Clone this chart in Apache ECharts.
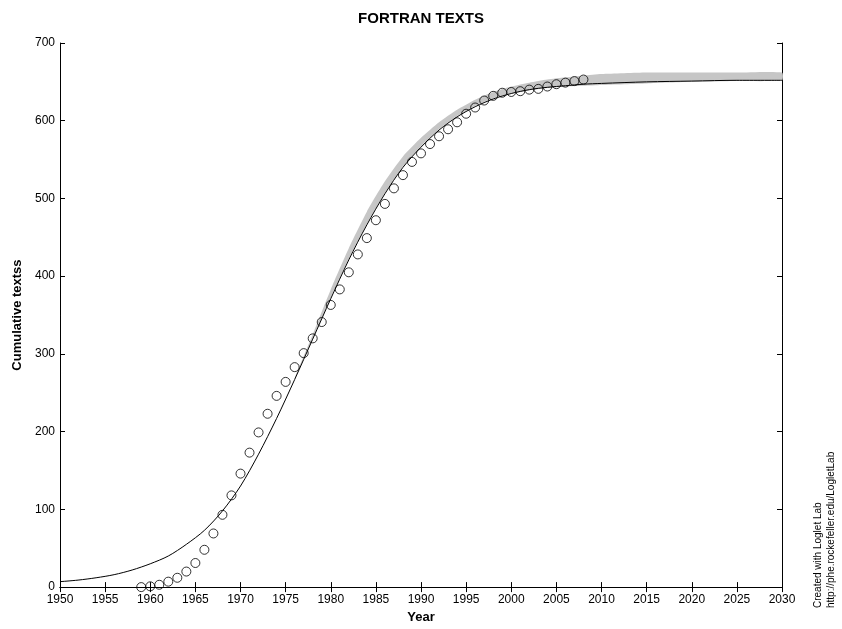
<!DOCTYPE html>
<html>
<head>
<meta charset="utf-8">
<script src="https://cdn.jsdelivr.net/npm/echarts@6/dist/echarts.min.js"></script>
<style>
html,body{margin:0;padding:0;background:#fff;}
#chart{width:842px;height:629px;}
</style>
</head>
<body>
<div id="chart"></div>
<script>
// Observed cumulative FORTRAN texts (circles)
const obsYears = [1959,1960,1961,1962,1963,1964,1965,1966,1967,1968,1969,1970,1971,1972,1973,1974,1975,1976,1977,1978,1979,1980,1981,1982,1983,1984,1985,1986,1987,1988,1989,1990,1991,1992,1993,1994,1995,1996,1997,1998,1999,2000,2001,2002,2003,2004,2005,2006,2007,2008];
const obsValues = [0,1,3,7,12,20,31,48,69,93,118,146,173,199,223,246,264,283,301,320,341,363,383,405,428,449,472,493,513,530,547,558,570,580,589,598,609,617,626,632,636,637,638,640,641,644,647,649,651,653];

// Fitted curve
const fitYears = [1950,1952,1954,1956,1958,1960,1962,1964,1966,1968,1970,1972,1974,1976,1978,1980,1982,1984,1986,1988,1990,1992,1994,1996,1998,2000,2002,2004,2006,2008,2010,2015,2020,2025,2030];
const fitValues = [7,9,12,16,22,30,40,55,73,98,130,171,217,267,319,371,421,466,506,540,566,588,605,618,628,635,640,643,645,647,648,650,651,652,652];

// Confidence band
const bandYears = [1976,1978,1980,1982,1984,1986,1988,1990,1992,1994,1996,1998,2000,2002,2004,2006,2008,2010,2015,2020,2025,2030];
const bandLower = [267,319,372,422,467,507,541,567,589,606,619,629,635,639,642,644,645,646,648,650,651,652];
const bandUpper = [269,325,383,436,483,522,554,578,598,614,627,637,644,649,653,656,658,660,662,662,662,662];

const xTicksMin = 1950, xTicksMax = 2030, xStep = 5;
const yTicksMin = 0, yTicksMax = 700, yStep = 100;

const FONT = '"Liberation Sans", Arial, Helvetica, sans-serif';
const chart = echarts.init(document.getElementById('chart'), null, {renderer:'canvas'});

const axisCommon = {
  axisLine:{show:true, lineStyle:{color:'#000', width:1}},
  axisTick:{show:true, inside:true, length:5, lineStyle:{color:'#000', width:1}},
  splitLine:{show:false}
};

const option = {
  backgroundColor:'#fff',
  animation:false,
  title:{
    text:'FORTRAN TEXTS', left:'center', top:6,
    textStyle:{fontFamily:FONT, fontSize:15, fontWeight:'bold', color:'#000'}
  },
  grid:{left:60, right:60, top:43, bottom:37, containLabel:false},
  xAxis:[
    Object.assign({}, axisCommon, {
      type:'value', min:xTicksMin, max:xTicksMax, interval:xStep, position:'bottom',
      name:'Year', nameLocation:'middle', nameGap:15,
      nameTextStyle:{fontFamily:FONT, fontSize:13, fontWeight:'bold', color:'#000'},
      axisLabel:{show:true, margin:7, color:'#000', fontFamily:FONT, fontSize:12, formatter:v=>String(v)}
    }),
    Object.assign({}, axisCommon, {
      type:'value', min:xTicksMin, max:xTicksMax, interval:xStep, position:'top',
      axisLabel:{show:false}
    })
  ],
  yAxis:[
    Object.assign({}, axisCommon, {
      type:'value', min:yTicksMin, max:yTicksMax, interval:yStep, position:'left',
      name:'Cumulative textss', nameLocation:'middle', nameGap:27, nameRotate:90,
      nameTextStyle:{fontFamily:FONT, fontSize:13, fontWeight:'bold', color:'#000'},
      axisLabel:{show:true, margin:5, color:'#000', fontFamily:FONT, fontSize:12}
    }),
    Object.assign({}, axisCommon, {
      type:'value', min:yTicksMin, max:yTicksMax, interval:yStep, position:'right',
      axisLabel:{show:false}
    })
  ],
  series:[
    {
      name:'band', type:'custom', silent:true, z:1,
      data: bandYears.map((y,i)=>[y, bandLower[i], bandUpper[i]]),
      renderItem:function(params, api){
        if (params.dataIndex !== 0) return null;
        const pts = [];
        for (let i=0;i<bandYears.length;i++) pts.push(api.coord([bandYears[i], bandUpper[i]]));
        for (let i=bandYears.length-1;i>=0;i--) pts.push(api.coord([bandYears[i], bandLower[i]]));
        return {type:'polygon', shape:{points:pts, smooth:0.2}, style:{fill:'#c6c6c6', stroke:null}};
      },
      encode:{x:0, y:[1,2]}
    },
    {
      name:'fit', type:'line', symbol:'none', smooth:0.3,
      data: fitYears.map((y,i)=>[y, fitValues[i]]),
      lineStyle:{color:'#000', width:1}, z:2
    },
    {
      name:'observed', type:'scatter', symbol:'circle', symbolSize:9,
      data: obsYears.map((y,i)=>[y, obsValues[i]]),
      itemStyle:{color:'rgba(0,0,0,0)', borderColor:'#000', borderWidth:1}, z:3
    }
  ],
  graphic:[
    {type:'text', x:818, y:608, rotation:Math.PI/2,
     style:{text:'Created with Loglet Lab', x:0, y:0, align:'left', verticalAlign:'middle', fontFamily:FONT, fontSize:10, fill:'#000'}},
    {type:'text', x:831, y:608, rotation:Math.PI/2,
     style:{text:'http://phe.rockefeller.edu/LogletLab', x:0, y:0, align:'left', verticalAlign:'middle', fontFamily:FONT, fontSize:10, fill:'#000'}}
  ]
};
chart.setOption(option);
</script>
</body>
</html>
